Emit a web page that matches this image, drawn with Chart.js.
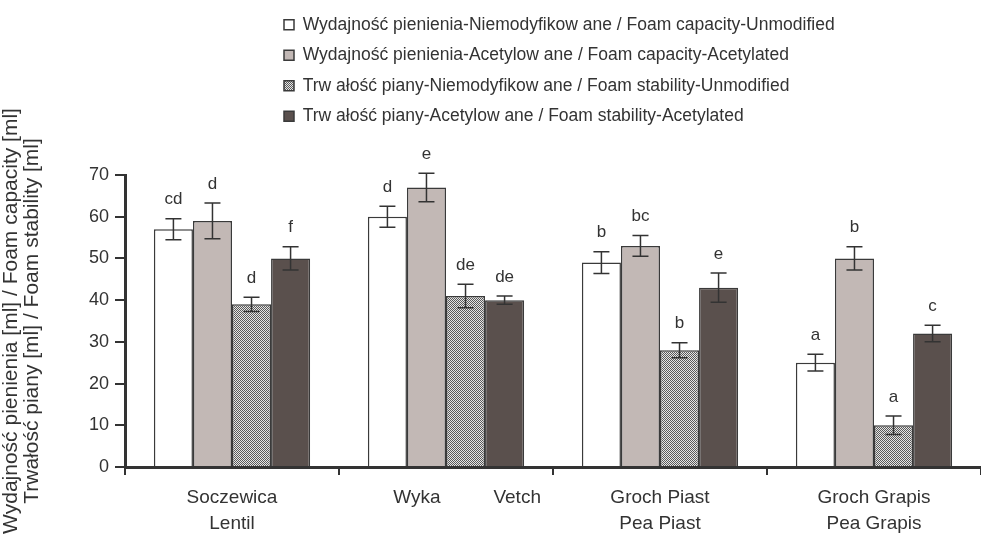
<!DOCTYPE html>
<html>
<head>
<meta charset="utf-8">
<script src="https://cdn.jsdelivr.net/npm/chart.js@4.4.1/dist/chart.umd.min.js"></script>
<style>
  body { margin: 0; background: #fff; }
  #wrap { width: 981px; height: 540px; }
</style>
</head>
<body>
<div id="wrap"><canvas id="chart"></canvas></div>
<script>
// --- data ---
const categories = [
  ["Soczewica", "Lentil"],
  "        Wyka          Vetch",
  ["Groch Piast", "Pea Piast"],
  ["Groch Grapis", "Pea Grapis"],
];
const seriesNames = [
  "Wydajność pienienia-Niemodyfikow ane / Foam capacity-Unmodified",
  "Wydajność pienienia-Acetylow ane / Foam capacity-Acetylated",
  "Trw ałość piany-Niemodyfikow ane / Foam stability-Unmodified",
  "Trw ałość piany-Acetylow ane / Foam stability-Acetylated",
];
const capUnmod = [57, 60, 49, 25];
const capAcet = [59, 67, 53, 50];
const stabUnmod = [39, 41, 28, 10];
const stabAcet = [50, 40, 43, 32];
const errCapUnmod = [2.5, 2.5, 2.6, 2.0];
const errCapAcet = [4.3, 3.4, 2.5, 2.8];
const errStabUnmod = [1.7, 2.8, 1.8, 2.2];
const errStabAcet = [2.8, 1.0, 3.5, 2.0];
const lettersCapUnmod = ["cd", "d", "b", "a"];
const lettersCapAcet = ["d", "e", "bc", "b"];
const lettersStabUnmod = ["d", "de", "b", "a"];
const lettersStabAcet = ["f", "de", "e", "c"];
const yTicks = [0, 10, 20, 30, 40, 50, 60, 70];
const yTitle = ["Wydajność pienienia [ml] / Foam capacity [ml]", "Trwałość piany [ml] / Foam stability [ml]"];

const FONT = "'Liberation Sans', Arial, sans-serif";
const INK = "#333333";

// fine checker fill for the stability-unmodified bars
function checker() {
  const c = document.createElement("canvas");
  c.width = 2;
  c.height = 2;
  const g = c.getContext("2d");
  g.fillStyle = "#e6e6e6";
  g.fillRect(0, 0, 2, 2);
  g.fillStyle = "#5a5a5a";
  g.fillRect(0, 0, 1, 1);
  g.fillRect(1, 1, 1, 1);
  return g.createPattern(c, "repeat");
}

// error bars + significance letters
const errorBars = {
  id: "errorBars",
  afterDatasetsDraw(chart) {
    const ctx = chart.ctx;
    const y = chart.scales.y;
    ctx.save();
    ctx.strokeStyle = INK;
    ctx.lineWidth = 1.5;
    ctx.fillStyle = INK;
    ctx.font = "17px " + FONT;
    ctx.textAlign = "center";
    ctx.textBaseline = "middle";
    chart.data.datasets.forEach((ds, i) => {
      chart.getDatasetMeta(i).data.forEach((bar, j) => {
        const top = y.getPixelForValue(ds.data[j] + ds.errors[j]);
        const bot = y.getPixelForValue(ds.data[j] - ds.errors[j]);
        const x = bar.x;
        ctx.beginPath();
        ctx.moveTo(x, top);
        ctx.lineTo(x, bot);
        ctx.moveTo(x - 8, top);
        ctx.lineTo(x + 8, top);
        ctx.moveTo(x - 8, bot);
        ctx.lineTo(x + 8, bot);
        ctx.stroke();
        ctx.fillText(ds.letters[j], x, top - 19);
      });
    });
    ctx.restore();
  },
};

// legend: a left-aligned column above the plot
const legendPlace = {
  id: "legendPlace",
  afterLayout(chart) {
    chart.legend.left = 271;
    chart.legend.top = 3;
    chart.legend.bottom = 400;
  },
};

new Chart(document.getElementById("chart"), {
  type: "bar",
  data: {
    labels: categories,
    datasets: [
      { label: seriesNames[0], data: capUnmod, errors: errCapUnmod, letters: lettersCapUnmod, backgroundColor: "#ffffff" },
      { label: seriesNames[1], data: capAcet, errors: errCapAcet, letters: lettersCapAcet, backgroundColor: "#c2b8b5" },
      { label: seriesNames[2], data: stabUnmod, errors: errStabUnmod, letters: lettersStabUnmod, backgroundColor: checker() },
      { label: seriesNames[3], data: stabAcet, errors: errStabAcet, letters: lettersStabAcet, backgroundColor: "#5a504d" },
    ].map((d) => Object.assign(d, { borderColor: "#3a3a3a", borderWidth: 1.5, categoryPercentage: 0.73, barPercentage: 1.0 })),
  },
  options: {
    responsive: true,
    maintainAspectRatio: false,
    animation: false,
    layout: { padding: { top: 175, right: 0, left: 0, bottom: 0 } },
    plugins: {
      tooltip: { enabled: false },
      legend: {
        position: "chartArea",
        align: "start",
        labels: {
          boxWidth: 10,
          boxHeight: 10,
          padding: 13,
          color: INK,
          font: { family: FONT, size: 17.5 },
        },
      },
    },
    scales: {
      x: {
        afterFit: (s) => { s.height = 73; },
        grid: { display: true, drawOnChartArea: false, offset: true, tickLength: 8, color: INK, lineWidth: 2 },
        border: { display: true, width: 3, color: INK },
        ticks: { color: INK, font: { family: FONT, size: 19, lineHeight: 1.4 }, padding: 9, maxRotation: 0, autoSkip: false },
      },
      y: {
        min: 0,
        max: 70,
        afterBuildTicks: (s) => { s.ticks = yTicks.map((v) => ({ value: v })); },
        afterFit: (s) => { s.width = 125; },
        grid: { display: true, drawOnChartArea: false, tickLength: 10, color: INK, lineWidth: 2 },
        border: { display: true, width: 3, color: INK },
        ticks: { color: INK, font: { family: FONT, size: 18 }, padding: 6 },
        title: { display: true, text: yTitle, color: INK, font: { family: FONT, size: 21, lineHeight: 1.0 }, padding: { top: 1, bottom: 0 } },
      },
    },
  },
  plugins: [errorBars, legendPlace],
});
</script>
</body>
</html>
